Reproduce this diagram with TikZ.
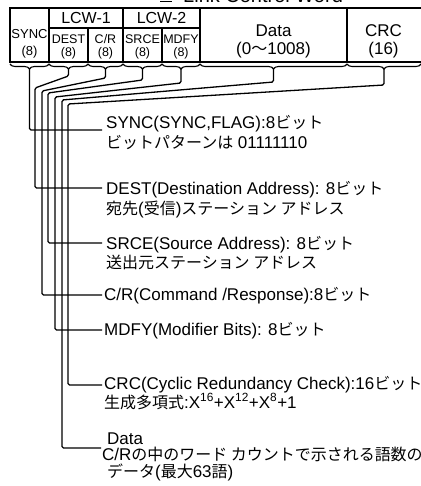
\documentclass[tikz,border=0pt]{standalone}
\usepackage{fontspec}
\setmainfont{Liberation Sans}
\newfontfamily\jpfont{Noto Sans CJK JP}[Scale=0.94]
\newcommand\J[1]{{\jpfont #1}}
\usetikzlibrary{decorations.pathreplacing}
\begin{document}
\begin{tikzpicture}[x=1pt,y=-1pt,
  frame/.style={line width=1.6pt},
  link/.style={line width=1.3pt, rounded corners=1.5pt},
  ubrace/.style={line width=1.1pt, decorate, decoration={brace, mirror, amplitude=5pt}},
  cell/.style={inner sep=0pt, font=\fontsize{12.5}{12.5}\selectfont},
  head/.style={inner sep=0pt, font=\fontsize{16}{16}\selectfont},
  big/.style={inner sep=0pt, font=\fontsize{17}{17}\selectfont},
  lbl/.style={inner sep=0pt, anchor=base west, font=\fontsize{17}{20}\selectfont}]
\useasboundingbox (0,0) rectangle (420,486);
% partly cut title
\draw[line width=1.2pt] (160,1.5) -- (172,1.5);
\node[inner sep=0pt, anchor=base west, font=\fontsize{20}{20}\selectfont] (title) at (183,2.5) {Link Control Word};
% frame
\draw[frame] (425,8) -- (10,8) -- (10,62) -- (425,62);
\draw[frame] (49,28) -- (200,28);
\draw[frame] (49,8) -- (49,62);
\draw[frame] (88,28) -- (88,62);
\draw[frame] (123,8) -- (123,62);
\draw[frame] (162,28) -- (162,62);
\draw[frame] (200,8) -- (200,62);
\draw[frame] (347,8) -- (347,62);
% cell texts
\node[cell, font=\fontsize{13}{13}\selectfont] (syncA) at (29.5,34) {SYNC};
\node[cell, font=\fontsize{13}{13}\selectfont] (syncB) at (29.5,52) {(8)};
\node[head] (lcw1) at (86,18) {LCW-1};
\node[head] (lcw2) at (161.5,18) {LCW-2};
\node[cell] (destA) at (68.5,39.5) {DEST};
\node[cell] (destB) at (68.5,53.5) {(8)};
\node[cell] (crA) at (105.5,39.5) {C/R};
\node[cell] (crB) at (105.5,53.5) {(8)};
\node[cell] (srceA) at (142.5,39.5) {SRCE};
\node[cell] (srceB) at (142.5,53.5) {(8)};
\node[cell] (mdfyA) at (181,39.5) {MDFY};
\node[cell] (mdfyB) at (181,53.5) {(8)};
\node[big] (dataA) at (273.5,30.5) {Data};
\node[big] (dataB) at (273.5,50.5) {(0\J{〜}1008)};
\node[big] (crcA) at (383.5,30.5) {CRC};
\node[big] (crcB) at (383.5,50.5) {(16)};
% braces
\draw[ubrace] (10,64) -- (49,64);
\draw[ubrace] (49,64) -- (88,64);
\draw[ubrace] (88,64) -- (123,64);
\draw[ubrace] (123,64) -- (162,64);
\draw[ubrace] (162,64) -- (200,64);
\draw[ubrace] (200,64) -- (347,64);
\draw[ubrace] (347,64) -- (421,64);
\coordinate (tSync) at (29.5,69);
\coordinate (tDest) at (68.5,69);
\coordinate (tCR) at (105.5,69);
\coordinate (tSrce) at (142.5,69);
\coordinate (tMdfy) at (181,69);
\coordinate (tData) at (273.5,69);
\coordinate (tCrc) at (384,69);
% labels
\node[lbl] (sync1) at (106,129) {SYNC(SYNC,FLAG):8\J{ビット}};
\node[lbl] (sync2) at (106,149) {\J{ビットパターンは} 01111110};
\node[lbl] (dest1) at (106,194) {DEST(Destination Address): 8\J{ビット}};
\node[lbl] (dest2) at (106,214) {\J{宛先}(\J{受信})\J{ステーション アドレス}};
\node[lbl] (srce1) at (106,249) {SRCE(Source Address): 8\J{ビット}};
\node[lbl] (srce2) at (106,268) {\J{送出元ステーション アドレス}};
\node[lbl] (cr1) at (104,300) {C/R(Command /Response):8\J{ビット}};
\node[lbl] (mdfy1) at (104,335) {MDFY(Modifier Bits): 8\J{ビット}};
\node[lbl] (crc1) at (104,389) {CRC(Cyclic Redundancy Check):16\J{ビット}};
\node[lbl] (crc2) at (104,408) {\J{生成多項式}:X\textsuperscript{16}+X\textsuperscript{12}+X\textsuperscript{8}+1};
\node[lbl] (data1) at (107,444) {Data};
\node[lbl] (data2) at (102,460) {C/R\J{の中のワード カウントで示される語数の}};
\node[lbl] (data3) at (107,477) {\J{データ}(\J{最大}63\J{語})};
\coordinate (eSync) at (102,130);
\coordinate (eDest) at (102,188);
\coordinate (eSrce) at (102,243);
\coordinate (eCR) at (102,295);
\coordinate (eMdfy) at (102,330);
\coordinate (eCrc) at (102,385);
\coordinate (eData) at (101,448);
% connectors
\draw[link] (tSync) -- (29.5,130) -- (eSync);
\draw[link] (tDest) -- (68.5,76) -- (35,88) -- (35,188) -- (eDest);
\draw[link] (tCR) -- (105.5,78) -- (42,91) -- (42,295) -- (eCR);
\draw[link] (tSrce) -- (142.5,80) -- (48,93) -- (48,243) -- (eSrce);
\draw[link] (tMdfy) -- (181,83) -- (55,97) -- (55,330) -- (eMdfy);
\draw[link] (tData) -- (273.5,82) -- (62,100) -- (62,448) -- (eData);
\draw[link] (tCrc) -- (384,85) -- (68,104) -- (68,385) -- (eCrc);
\end{tikzpicture}
\end{document}
